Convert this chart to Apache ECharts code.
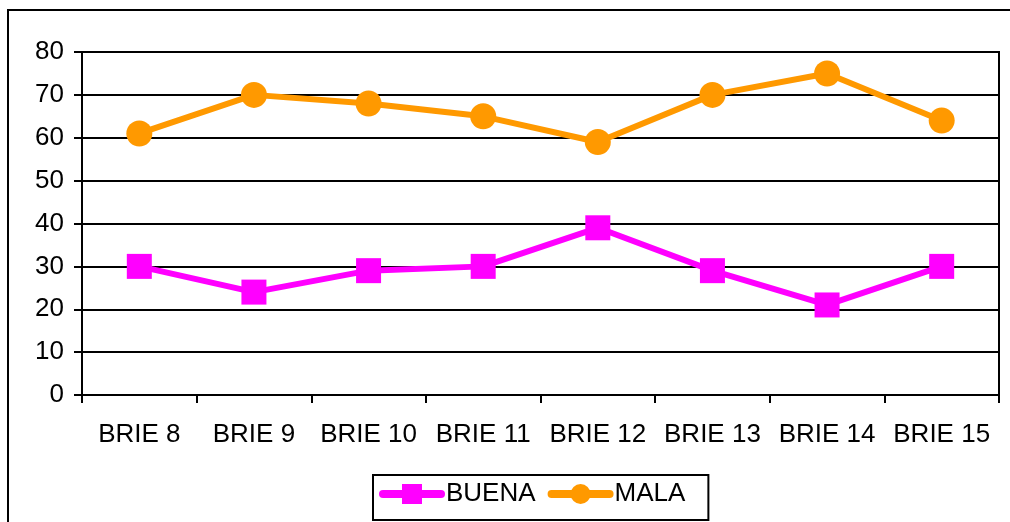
<!DOCTYPE html>
<html>
<head>
<meta charset="utf-8">
<script src="https://cdn.jsdelivr.net/npm/echarts@6/dist/echarts.min.js"></script>
<style>html,body{margin:0;padding:0;background:#fff;}#c{width:1010px;height:522px;}</style>
</head>
<body>
<div id="c"></div>
<script>
const categories = ['BRIE 8','BRIE 9','BRIE 10','BRIE 11','BRIE 12','BRIE 13','BRIE 14','BRIE 15'];
const buena = [30, 24, 29, 30, 39, 29, 21, 30];
const mala = [61, 70, 68, 65, 59, 70, 75, 64];
const yTicks = [0, 10, 20, 30, 40, 50, 60, 70, 80];

const FONT = '"Liberation Sans", Arial, sans-serif';
const chart = echarts.init(document.getElementById('c'), null, {renderer: 'canvas'});
chart.setOption({
  animation: false,
  backgroundColor: '#fff',
  graphic: [{
    type: 'rect', silent: true, z: 100,
    shape: {x: 8, y: 10, width: 1010, height: 520},
    style: {fill: 'none', stroke: '#000', lineWidth: 2}
  }],
  grid: {left: 82, right: 11, top: 52, bottom: 127, show: true, borderColor: '#000', borderWidth: 2, backgroundColor: 'transparent'},
  legend: {
    left: 373, top: 475,
    padding: [6, 23, 13, 6],
    borderColor: '#000', borderWidth: 2,
    itemWidth: 58, itemHeight: 25, itemGap: 12,
    lineStyle: {width: 8, cap: 'round'},
    textStyle: {fontSize: 26, color: '#000', fontFamily: FONT},
    data: ['BUENA', 'MALA']
  },
  xAxis: {
    type: 'category', data: categories, boundaryGap: true,
    axisLine: {lineStyle: {color: '#000', width: 2}},
    axisTick: {show: true, length: 8, lineStyle: {color: '#000', width: 2}},
    axisLabel: {fontSize: 26, color: '#000', fontFamily: FONT, margin: 27, interval: 0}
  },
  yAxis: {
    type: 'value', min: yTicks[0], max: yTicks[yTicks.length - 1], interval: 10,
    axisLine: {show: true, lineStyle: {color: '#000', width: 2}},
    axisTick: {show: true, length: 8, lineStyle: {color: '#000', width: 2}},
    axisLabel: {fontSize: 26, color: '#000', fontFamily: FONT, margin: 18},
    splitLine: {show: true, lineStyle: {color: '#000', width: 2}}
  },
  series: [
    {name: 'BUENA', type: 'line', data: buena, symbol: 'rect', symbolSize: 25,
     color: '#FF00FF', lineStyle: {width: 6, color: '#FF00FF'}, itemStyle: {color: '#FF00FF'}},
    {name: 'MALA', type: 'line', data: mala, symbol: 'circle', symbolSize: 26,
     color: '#FF9900', lineStyle: {width: 6, color: '#FF9900'}, itemStyle: {color: '#FF9900'}}
  ]
});
</script>
</body>
</html>
